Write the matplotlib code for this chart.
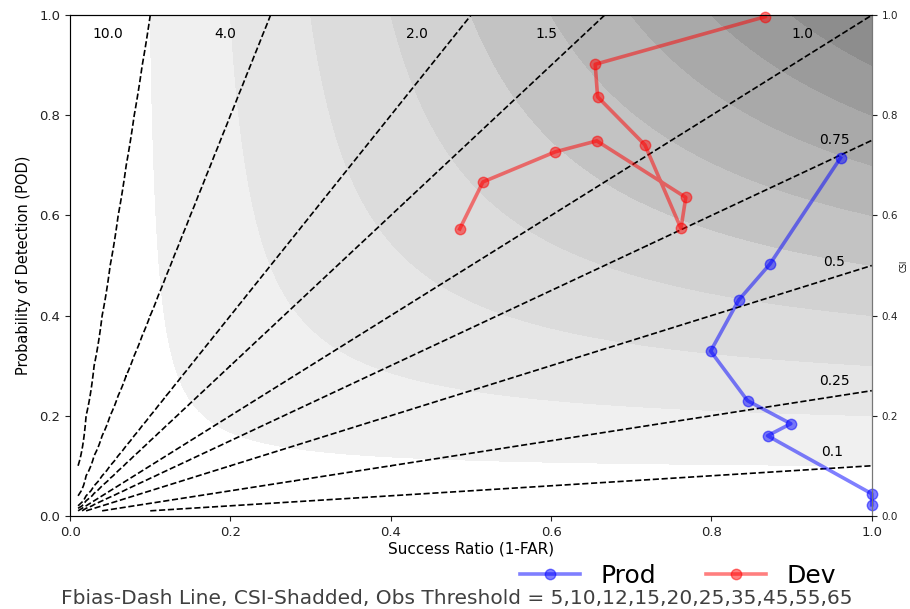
import numpy as np
import matplotlib
matplotlib.use("Agg")
import matplotlib.pyplot as plt

# ---- data ----
prod_sr = [0.961, 0.873, 0.834, 0.799, 0.845, 0.899, 0.870, 1.0, 1.0]
prod_pod = [0.715, 0.503, 0.431, 0.329, 0.230, 0.184, 0.160, 0.044, 0.022]
dev_sr = [0.867, 0.655, 0.658, 0.717, 0.762, 0.768, 0.657, 0.605, 0.515, 0.486]
dev_pod = [0.997, 0.902, 0.837, 0.741, 0.574, 0.636, 0.749, 0.727, 0.667, 0.573]
bias_levels = [0.1, 0.25, 0.5, 0.75, 1.0, 1.5, 2.0, 4.0, 10.0]
bias_labels = ["0.1", "0.25", "0.5", "0.75", "1.0", "1.5", "2.0", "4.0", "10.0"]
csi_levels = [0.1, 0.2, 0.3, 0.4, 0.5, 0.6, 0.7, 0.8, 0.9, 1.0]
csi_grays = ["#f0f0f0", "#e6e6e6", "#dcdcdc", "#d2d2d2", "#c3c3c3",
             "#b6b6b6", "#a9a9a9", "#9b9b9b", "#8d8d8d"]
ticks = [0.0, 0.2, 0.4, 0.6, 0.8, 1.0]
footer = "Fbias-Dash Line, CSI-Shadded, Obs Threshold = 5,10,12,15,20,25,35,45,55,65"

# label anchor positions (layout)
label_pos = {"10.0": (0.047, 0.962), "4.0": (0.193, 0.962), "2.0": (0.433, 0.962),
             "1.5": (0.594, 0.962), "1.0": (0.914, 0.962), "0.75": (0.954, 0.750),
             "0.5": (0.953, 0.507), "0.25": (0.954, 0.269), "0.1": (0.951, 0.128)}

fig = plt.figure(figsize=(9.1, 6.09), dpi=100)
ax = fig.add_axes([0.077, 0.153, 0.881, 0.822])

grid = np.arange(0.01, 1.001, 0.01)
sr_g, pod_g = np.meshgrid(grid, grid)
bias = pod_g / sr_g
csi = 1.0 / (1.0 / sr_g + 1.0 / pod_g - 1.0)

ax.contourf(sr_g, pod_g, csi, levels=csi_levels, colors=csi_grays, extend="neither")
ax.contour(sr_g, pod_g, bias, levels=bias_levels, colors="k",
           linestyles="dashed", linewidths=1.2)
for lab in bias_labels:
    x, y = label_pos[lab]
    ax.text(x, y, lab, fontsize=10, ha="center", va="center")

ax.plot(prod_sr, prod_pod, color="b", alpha=0.5, lw=2.6, marker="o", ms=7.5, label="Prod", clip_on=False, zorder=5)
ax.plot(dev_sr, dev_pod, color="r", alpha=0.5, lw=2.6, marker="o", ms=7.5, label="Dev", clip_on=False, zorder=5)

ax.set_xlim(0, 1)
ax.set_ylim(0, 1)
ax.set_xticks(ticks)
ax.set_yticks(ticks)
ax.tick_params(labelsize=9.5, colors="#222222")
ax.set_xlabel("Success Ratio (1-FAR)", fontsize=11, labelpad=2)
ax.set_ylabel("Probability of Detection (POD)", fontsize=10.5, labelpad=6)
for s in ["left", "bottom", "right"]:
    ax.spines[s].set_color("#777777")
ax.spines["top"].set_color("#222222")

ax2 = ax.twinx()
ax2.set_ylim(0, 1)
ax2.set_yticks(ticks)
ax2.tick_params(labelsize=7.5, colors="#222222")
ax2.spines["right"].set_color("#777777")
ax2.set_ylabel("CSI", fontsize=5.5, labelpad=1)

handles, labels = ax.get_legend_handles_labels()
fig.legend(handles, labels, loc="center", bbox_to_anchor=(0.745, 0.054), ncol=2,
           frameon=False, fontsize=18, handlelength=2.4, columnspacing=2.0,
           handletextpad=0.8, borderaxespad=0)
fig.text(0.502, 0.018, footer, fontsize=14.5, color="#404040", ha="center", va="center")

fig.savefig("out.png", dpi=100)
